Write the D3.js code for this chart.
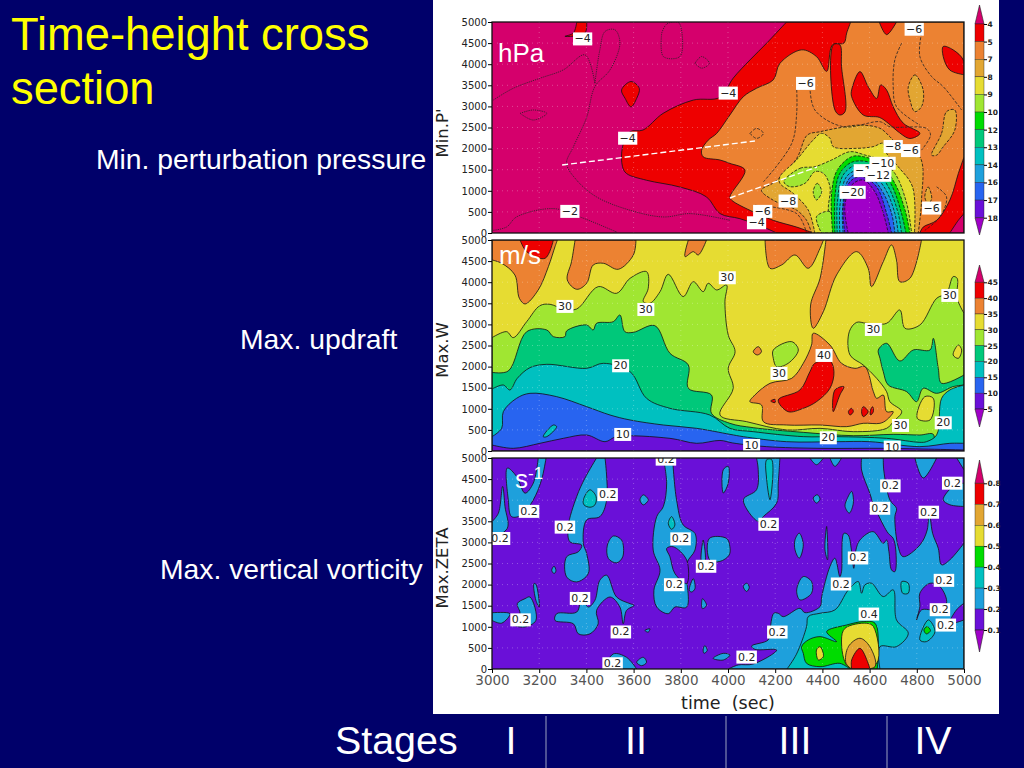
<!DOCTYPE html>
<html><head><meta charset="utf-8">
<script src="https://cdn.jsdelivr.net/npm/d3@7"></script>
<style>html,body{margin:0;padding:0;background:#00006a;overflow:hidden}svg{display:block}
text{font-family:"Liberation Sans",Arial,sans-serif}
.ax text{font-family:"DejaVu Sans",sans-serif;fill:#222}
</style></head><body><svg id="c" width="1024" height="768"></svg>
<script>
// ---------- tick labels ----------
const timeTicks=[3000,3200,3400,3600,3800,4000,4200,4400,4600,4800,5000];
const heightTicks=[0,500,1000,1500,2000,2500,3000,3500,4000,4500,5000];
const pressureKey=["4","5","7","8","9","10","12","13","14","16","17","18"];
const updraftKey=["45","40","35","30","25","20","15","10","5"];
const vorticityKey=["0.8","0.7","0.6","0.5","0.4","0.3","0.2","0.1"];
// ---------- Min.P' contours, [time s, height m] ----------
const pRedMain=[[3553,1570],[3553,2040],[3585,2400],[3640,2440],[3725,2835],[3853,3150],[3966,3215],[4022,3670],[4093,4100],[4164,4500],[4248,5000],[5000,5000],[5000,0],[4206,0],[4150,140],[4050,340],[3966,460],[3909,855],[3796,1090],[3655,1250],[3570,1410]];
const pRedTopLeft=[[3359,5000],[3401,5000],[3394,4740],[3309,4660],[3345,4740]];
const pRedMid=[[3549,3390],[3589,3590],[3624,3430],[3613,3190],[3589,2990],[3564,3190]];
const pOrange=[[3888,1960],[3916,2200],[3952,2360],[4008,2796],[4065,3230],[4121,3430],[4192,3630],[4220,4020],[4312,4340],[4375,4180],[4418,3830],[4443,4460],[4491,4500],[4503,4740],[4520,5000],[5000,5000],[5000,1800],[4976,1410],[4940,780],[4884,300],[4827,140],[4813,0],[4361,0],[4291,140],[4192,300],[4107,500],[4015,780],[4008,855],[4072,1490],[4008,1650],[3966,1730],[3895,1805]];
const pRedFinger=[[4446,4459],[4453,2915],[4474,2796],[4496,2875],[4481,3944],[4474,4459]];
const pRedCentre=[[4524,3390],[4559,3825],[4594,3470],[4630,3190],[4647,3510],[4672,3390],[4700,2990],[4743,2600],[4813,2360],[4771,2240],[4721,2400],[4679,2600],[4641,2740],[4573,2796],[4524,3230]];
const pRedTop=[[4641,5000],[4672,4700],[4714,5000]];
const pRedRight=[[4912,4420],[4954,4340],[4997,4100],[5000,3750],[4940,3860],[4912,4180]];
const pCrimsonCorner=[[4940,0],[4976,301],[5000,459],[5000,0]];
const pGold=[[4142,1014],[4199,1212],[4291,1766],[4336,2320],[4390,2400],[4460,2480],[4559,2558],[4644,2480],[4686,2281],[4714,2123],[4813,1806],[4820,776],[4806,0],[4354,0],[4333,301],[4291,539],[4192,776]];
const pGoldRightA=[[4764,3469],[4792,3746],[4827,3390],[4820,2994],[4792,2875],[4771,3152]];
const pGoldRightB=[[4863,1845],[4905,2360],[4926,2875],[4961,2915],[4961,2439],[4912,2043],[4884,1845]];
const pGoldSpot=[[4834,855],[4848,1093],[4863,815],[4848,697]];
const pYellow=[[4220,1335],[4290,1730],[4361,2204],[4396,2362],[4432,2244],[4446,2046],[4545,2006],[4615,2046],[4658,2125],[4672,1888],[4721,1572],[4782,1093],[4790,0],[4368,0],[4340,545],[4276,940],[4220,1180]];
const pLime=[[4237,1216],[4305,1533],[4368,1572],[4439,1730],[4517,1927],[4580,1848],[4644,1730],[4707,1414],[4757,703],[4778,0],[4432,0],[4425,585],[4432,1098],[4404,1414],[4368,1453],[4326,1177],[4262,1098]];
const pLimeSpot=[[4361,980],[4378,1177],[4397,980],[4375,782]];
const pLimeLow=[[4375,387],[4432,505],[4446,0],[4396,0]];
const pGreen=[[4443,0],[4439,940],[4463,1493],[4524,1809],[4573,1809],[4644,1651],[4707,1177],[4750,545],[4771,0]];
const pEmerald=[[4453,0],[4453,861],[4474,1414],[4531,1690],[4629,1612],[4693,1138],[4735,466],[4754,0]];
const pTeal=[[4463,0],[4463,703],[4488,1375],[4545,1612],[4622,1493],[4679,1098],[4721,466],[4735,0]];
const pSky=[[4474,0],[4474,624],[4502,1335],[4552,1493],[4608,1414],[4665,1058],[4707,466],[4721,0]];
const pBlue=[[4488,0],[4485,545],[4509,1256],[4552,1414],[4601,1335],[4651,1019],[4693,466],[4707,0]];
const pViolet=[[4495,0],[4488,585],[4517,1217],[4566,1335],[4629,1098],[4672,466],[4693,0]];
const pPurple=[[4509,0],[4495,624],[4524,1137],[4573,1256],[4622,979],[4658,466],[4679,0]];
const pLineA=[[3006,3152],[3090,3429],[3203,3667],[3302,3865],[3394,4221],[3436,3548]];
const pLineB=[[3436,3548],[3457,4340],[3479,4776],[3521,4815],[3542,4499],[3500,3865],[3436,3470],[3401,2740],[3345,2043],[3316,1647],[3359,1251],[3443,855],[3585,539],[3726,380],[3839,459],[4008,301]];
const pLineC=[[3006,63],[3062,143],[3104,380],[3260,578],[3373,380],[3528,24]];
const pLoopA=[[3119,2835],[3175,2915],[3232,2835],[3175,2677],[3119,2835]];
const pLoopB=[[3719,4736],[3740,4950],[3789,4990],[3803,4815],[3796,4182],[3726,4182],[3719,4736]];
const pLoopC=[[3860,4023],[3888,4182],[3921,4023],[3888,3905],[3860,4023]];
const pDashA=[[4150,1212],[4270,2123],[4291,2835],[4291,3429]];
const pDashB=[[4347,3469],[4368,2915],[4488,2519],[4644,2637],[4686,2519],[4841,2479],[4858,2320],[4820,1964]];
const pDashC=[[4820,4736],[4813,4182],[4863,3706],[4912,3469],[4990,2915]];
const pDashD=[[4736,4499],[4707,4103],[4700,3469],[4714,2994],[4813,2558]];
const pDashE=[[4114,657],[4291,459],[4333,0]];
const pDashF=[[4884,1093],[4926,855],[4898,380],[4834,63]];
const pDashG=[[4093,2360],[4121,2479],[4150,2360],[4121,2241],[4093,2360]];
const pDashTrackA=[[3297,1611],[4114,2180]];
const pDashTrackB=[[4008,830],[4377,1564]];
const pLabels=[["−4",3384,4610],["−4",3575,2257],["−2",3330,523],["−4",4001,3326],["−6",4329,3556],["−6",4789,4840],["−8",4700,2060],["−6",4774,1964],["−1",4573,1489],["−10",4655,1663],["−12",4637,1378],["−20",4528,974],["−8",4255,768],["−6",4147,523],["−4",4121,253],["−6",4863,602]];
// ---------- Max.W contours ----------
const wLime=[[3000,2686],[3062,2828],[3090,2686],[3147,3065],[3203,3444],[3246,3476],[3302,3365],[3359,3365],[3450,3895],[3528,3737],[3585,4092],[3655,4250],[3662,3855],[3641,3539],[3669,3500],[3712,3776],[3747,4187],[3810,3658],[3853,4013],[3895,3776],[3916,3974],[3952,3816],[3994,3934],[3987,3539],[4001,2749],[4030,2354],[4001,1959],[4022,1485],[3966,853],[4079,695],[4248,498],[4390,537],[4531,458],[4672,537],[4700,695],[4736,932],[4686,1169],[4672,1406],[4630,1722],[4573,2038],[4517,2275],[4514,2828],[4545,3049],[4587,3026],[4672,3026],[4728,3342],[4750,2907],[4813,2986],[4884,3618],[4926,3737],[4954,4132],[4971,4092],[4971,3618],[5000,3263],[5000,0],[3000,0]];
const wYellowA=[[4802,774],[4834,1288],[4870,1248],[4856,735]];
const wYellowB=[[4954,2275],[4976,2512],[4990,2394],[4976,2196]];
const wLimePatch=[[4192,2394],[4270,2591],[4298,2394],[4255,2078],[4206,1999],[4192,2196]];
const wEmerald=[[3000,1864],[3069,1896],[3147,2828],[3232,2868],[3260,2710],[3309,2710],[3316,2844],[3401,2986],[3429,2868],[3443,3026],[3514,3065],[3542,3223],[3563,2828],[3599,2812],[3690,2970],[3754,2315],[3832,2038],[3832,1485],[3930,1327],[3930,893],[4008,656],[4107,553],[4319,442],[4531,363],[4700,395],[4813,379],[4870,395],[4870,0],[3000,0]];
const wEmeraldRight=[[4637,2394],[4672,2552],[4728,2133],[4785,2394],[4856,2394],[4870,2670],[4891,1959],[4905,1604],[5000,1801],[5000,1564],[4954,1525],[4884,1367],[4827,1485],[4799,1169],[4757,1406],[4679,1564],[4658,1880],[4644,2196]];
const wTeal=[[3000,1469],[3048,1564],[3076,1446],[3107,1722],[3161,1975],[3232,2054],[3401,1959],[3472,2078],[3585,1880],[3655,1248],[3754,1011],[3923,853],[4008,537],[4107,458],[4319,340],[4460,340],[4672,300],[4813,205],[4841,221],[4884,379],[4905,1248],[4940,1446],[5000,1564],[5000,0],[3000,0]];
const wBlue=[[3000,340],[3041,537],[3048,932],[3104,1248],[3161,1367],[3274,1288],[3401,1051],[3500,853],[3585,735],[3726,616],[3867,537],[4008,395],[4065,340],[4248,221],[4460,221],[4601,221],[4813,103],[4940,182],[5000,182],[5000,0],[3000,0]];
const wTealStreak=[[3217,340],[3260,616],[3274,577],[3232,340]];
const wViolet=[[3000,142],[3090,63],[3203,182],[3302,300],[3401,379],[3479,221],[3528,340],[3754,300],[3867,182],[3966,250],[4020,190],[4164,103],[4390,63],[4672,63],[5000,24],[5000,0],[3000,0]];
const wOrangeA=[[3000,5000],[3000,4527],[3041,4448],[3097,4171],[3116,3618],[3140,3484],[3196,3816],[3239,4369],[3267,4843],[3277,5000]];
const wRedTop=[[3119,5000],[3147,4724],[3225,4566],[3260,5000]];
const wOrangeB=[[3352,5000],[3337,4487],[3319,4053],[3359,3832],[3401,3974],[3429,4408],[3472,4448],[3535,4306],[3599,4645],[3610,5000]];
const wOrangeC=[[3832,5000],[3818,4606],[3853,4724],[3874,4645],[3909,5000]];
const wOrangeD=[[4157,5000],[4178,4329],[4227,4408],[4284,4645],[4340,4329],[4390,4803],[4404,5000]];
const wOrangeE=[[4415,5000],[4390,4092],[4350,3460],[4361,2907],[4404,3302],[4460,4171],[4545,4724],[4594,4329],[4608,3895],[4658,4487],[4693,4882],[4714,4527],[4728,4013],[4771,4092],[4820,5000]];
const wOrangeCore=[[4361,2789],[4432,2512],[4481,2078],[4538,1959],[4580,1999],[4616,1406],[4630,1248],[4658,1327],[4672,932],[4700,932],[4672,735],[4644,656],[4573,656],[4503,577],[4390,616],[4248,616],[4150,695],[4142,1090],[4093,1169],[4114,1327],[4178,1604],[4270,1722],[4319,2078],[4354,2512]];
const wOrangeSpot=[[4107,2354],[4128,2473],[4142,2354],[4124,2275]];
const wRedCore=[[4213,1209],[4305,1446],[4347,1880],[4368,2078],[4432,2133],[4449,1880],[4432,1485],[4375,1169],[4319,1011],[4255,932]];
const wRedB=[[4446,932],[4453,1446],[4491,1525],[4474,1327]];
const wRedC=[[4566,932],[4573,1051],[4594,932],[4573,814]];
const wRedD=[[4510,932],[4524,1011],[4531,932],[4517,853]];
const wRedE=[[4604,972],[4613,1051],[4616,932],[4604,853]];
const wRedF=[[4181,1185],[4199,1224],[4199,1146]];
const wLabels=[["30",3309,3437],["20",3545,2030],["10",3554,403],["30",3652,3365],["30",3997,4116],["30",4940,3697],["30",4616,2891],["40",4407,2275],["30",4216,1849],["30",4731,616],["20",4912,679],["20",4425,324],["10",4100,142],["10",4696,103]];
// ---------- Max.ZETA contours ----------
const zSkyShapes=[
[[3065,4762],[3104,4564],[3140,4167],[3175,4405],[3196,5000],[3229,5000],[3210,4484],[3175,4008],[3126,3651],[3083,3611],[3069,4008]],
[[3000,3492],[3027,3691],[3045,4326],[3055,3849],[3065,3334],[3000,3095]],
[[3443,5000],[3479,5000],[3486,4008],[3457,3611],[3401,3532],[3387,2976],[3401,2738],[3408,2262],[3359,2064],[3316,2183],[3316,2659],[3366,2778],[3380,2937],[3330,3016],[3323,3373],[3359,4088],[3394,4524]],
[[3627,4008],[3641,4127],[3662,4008],[3641,3889]],
[[3726,5000],[3765,5000],[3782,4008],[3810,3413],[3860,3214],[3860,2818],[3825,2500],[3825,1468],[3775,1468],[3747,1310],[3698,1468],[3686,1865],[3712,2341],[3683,2818],[3698,3611],[3726,3849],[3740,4405]],
[[3921,3095],[3994,3095],[4008,2897],[4005,2700],[3966,2550],[3923,2580]],
[[3888,2540],[3895,3056],[3902,2540]],
[[3489,2937],[3514,3151],[3549,3056],[3554,2659],[3528,2516],[3493,2619]],
[[3457,2103],[3486,2222],[3528,1706],[3585,1548],[3602,1508],[3570,1389],[3556,1071],[3542,1468],[3500,1706],[3443,1389],[3450,1071],[3415,833],[3366,833],[3345,1071],[3267,1151],[3274,1310],[3359,1349],[3380,1667],[3408,1468],[3436,1627]],
[[3000,1333],[3076,1310],[3041,1087],[3000,1151]],
[[3107,1548],[3140,1667],[3161,1706],[3186,1151],[3133,992],[3090,1071],[3119,1310]],
[[3178,2024],[3186,2008],[3200,1468],[3186,1627]],
[[3888,1508],[3892,1667],[3909,1508],[3892,1429]],
[[3895,476],[3902,556],[3912,437],[3898,373]],
[[3253,2341],[3263,2437],[3271,2326],[3263,2262]],
[[3472,0],[3514,357],[3570,278],[3613,0]],
[[3613,159],[3641,278],[3655,159],[3634,79]],
[[3937,252],[3980,371],[4008,332],[3980,213]],
[[3648,913],[3669,952],[3662,873]],
[[3836,1865],[3853,2143],[3860,1905],[3846,1825]],
[[4121,5000],[4220,5000],[4213,4406],[4206,3931],[4150,3615],[4128,3496],[4065,4010],[4121,4248],[4128,4722]],
[[3980,4722],[4001,4801],[4001,4406],[3980,4169]],
[[4284,3061],[4302,3219],[4319,2943],[4302,2626],[4284,2824]],
[[4503,4010],[4524,4208],[4531,3931],[4514,3694],[4496,3852]],
[[4361,4050],[4378,4129],[4390,4026],[4375,3931]],
[[4065,1954],[4079,2033],[4090,1938],[4079,1835]],
[[4291,1875],[4319,2191],[4354,2072],[4354,1796],[4305,1637]],
[[4347,5000],[4404,5000],[4375,4841]],
[[4432,5000],[4481,5000],[4453,4801]],
[[4792,5000],[4884,5000],[4827,4525]],
[[4912,4010],[4954,4327],[5000,4406],[5000,3852],[4940,3892]],
[[4969,5000],[5000,5000],[5000,4722]],
[[4411,2824],[4418,3378],[4422,2586]],
[[4001,0],[4043,95],[4107,118],[4206,450],[4114,466],[4100,545],[4170,687],[4177,885],[4194,1319],[4213,1319],[4234,1240],[4305,1438],[4326,1335],[4390,1479],[4397,1716],[4432,2428],[4453,2626],[4474,2188],[4481,2306],[4491,3215],[4509,3176],[4523,2820],[4533,2385],[4542,2820],[4559,3057],[4615,3255],[4658,2978],[4672,3057],[4682,2780],[4693,2346],[4707,2306],[4711,2820],[4700,3096],[4679,3215],[4658,3412],[4615,3926],[4601,4163],[4566,4716],[4566,5000],[4658,5000],[4660,4716],[4686,4005],[4714,3807],[4707,3610],[4721,2899],[4742,2662],[4813,2938],[4844,3294],[4852,3768],[4867,3215],[4891,2860],[4905,2468],[4940,2587],[5000,2982],[5000,0]]
];
const zVioletShapes=[
[[3740,2857],[3768,2897],[3825,2580],[3825,2024],[3775,2262],[3754,2659]],
[[4813,1796],[4856,2033],[4898,1954],[4926,1558],[4884,1400],[4820,1400],[4799,1163],[4813,1479]],
[[4940,1084],[4968,1400],[5000,1558],[5000,1163]]
];
const zTealShapes=[
[[3387,4008],[3415,4246],[3441,4088],[3436,3889],[3415,3834],[3390,3889]],
[[3747,3453],[3761,3611],[3775,3413],[3761,3310]],
[[4164,4960],[4185,4960],[4178,4010],[4164,4485]],
[[4250,0],[4290,350],[4333,1005],[4340,1242],[4390,1321],[4453,1400],[4510,1875],[4552,2072],[4566,1796],[4580,1993],[4608,2033],[4658,1716],[4700,1875],[4714,1163],[4764,846],[4714,530],[4644,530],[4644,0]],
[[4736,2072],[4764,2033],[4764,1796],[4740,1796]],
[[4813,688],[4849,1163],[4877,886],[4841,649]]
];
const zGreenShapes=[
[[4312,530],[4340,688],[4390,767],[4460,649],[4418,886],[4503,1044],[4573,1123],[4623,1084],[4637,451],[4632,0],[4517,0],[4474,134],[4390,55],[4333,134],[4319,372]],
[[4830,925],[4844,1005],[4858,910],[4841,831]]
];
const zYellowShapes=[
[[4481,688],[4496,965],[4587,1084],[4616,1005],[4630,134],[4510,55]],
[[4375,451],[4390,530],[4404,293],[4383,214]]
];
const zGold=[[4500,134],[4510,530],[4559,728],[4601,530],[4623,55],[4524,0]];
const zRed=[[4524,0],[4524,214],[4559,490],[4594,134],[4601,0]];
const zLabels=[["0.2",3157,3746],["0.2",3034,3103],["0.2",3309,3373],["0.2",3490,4143],["0.2",3799,3095],["0.2",3907,2445],["0.2",3772,2008],["0.2",3373,1683],["0.2",3121,1175],["0.2",3546,889],["0.2",3511,135],["0.2",3737,4984],["0.2",4172,3441],["0.2",4209,886],["0.2",4079,293],["0.2",4551,2642],["0.2",4479,2025],["0.4",4597,1313],["0.2",4644,3820],["0.2",4688,4350],["0.2",4851,3726],["0.2",4950,4414],["0.2",4915,2112],["0.2",4898,1416],["0.2",4923,1052]];

// ---------- styles and layout ----------
const C={crimson:"#d5006c",red:"#ee0000",orange:"#ec8232",gold:"#e2a632",yellow:"#e6dc32",lime:"#a0e632",green:"#00dc00",emerald:"#00c87a",teal:"#00c0c0",sky:"#1ea0dc",blue:"#2864f0",violet:"#6a10d8",purple:"#a000c8"};
const svg=d3.select("#c");
svg.append("rect").attr("x",433).attr("y",0).attr("width",566).attr("height",714).attr("fill","#fff");
const x=d3.scaleLinear().domain([3000,5000]).range([492,964]);
const defs=svg.append("defs");
const onEdge=p=>p[0]===3000||p[0]===5000||p[1]===0||p[1]===5000;

function panel(id,top,bottom,base,shapes,lines,labels,yTitle,titleY,showX){
  const y=d3.scaleLinear().domain([0,5000]).range([bottom,top]);
  defs.append("clipPath").attr("id",id).append("rect").attr("x",492).attr("y",top).attr("width",472).attr("height",bottom-top);
  const g=svg.append("g").attr("clip-path",`url(#${id})`);
  g.append("rect").attr("x",492).attr("y",top).attr("width",472).attr("height",bottom-top).attr("fill",C[base]);
  const area=d3.line().x(d=>x(d[0])).y(d=>y(d[1])).curve(d3.curveCatmullRomClosed.alpha(0.5));
  const open=d3.line().x(d=>x(d[0])).y(d=>y(d[1])).curve(d3.curveCatmullRom.alpha(0.5));
  g.selectAll(null).data(shapes).join("path")
    .attr("d",s=>area(s[0].flatMap(p=>onEdge(p)?[p,p]:[p])))
    .attr("fill",s=>C[s[1]]).attr("stroke","#111").attr("stroke-width",.8)
    .attr("stroke-dasharray",s=>s[2]?"3,1.5":null);
  const grid=g.append("g").attr("stroke","#fff").attr("stroke-opacity",.4).attr("stroke-width",.7).attr("stroke-dasharray","1,4");
  grid.selectAll(null).data(timeTicks.slice(1,-1)).join("line").attr("x1",d=>x(d)).attr("x2",d=>x(d)).attr("y1",top).attr("y2",bottom);
  grid.selectAll(null).data(heightTicks.slice(1,-1)).join("line").attr("y1",d=>y(d)).attr("y2",d=>y(d)).attr("x1",492).attr("x2",964);
  g.selectAll(null).data(lines).join("path").attr("d",l=>open(l[0])).attr("fill","none")
    .attr("stroke",l=>l[1]==="track"?"#fff":"#222").attr("stroke-width",l=>l[1]==="track"?1.4:.8)
    .attr("stroke-dasharray",l=>l[1]==="track"?"6,3":l[1]==="dash"?"3,1.5":"1.2,1");
  const lab=g.selectAll(null).data(labels).join("g").attr("transform",d=>`translate(${x(d[1])},${y(d[2])})`);
  lab.append("text").text(d=>d[0]).attr("text-anchor","middle").attr("dy","0.36em")
    .style("font-family","'DejaVu Sans',sans-serif").style("font-size","11px").attr("fill","#222");
  lab.insert("rect","text").each(function(){const b=this.nextSibling.getBBox();
    d3.select(this).attr("x",b.x-1.5).attr("y",b.y).attr("width",b.width+3).attr("height",b.height).attr("fill","#fff");});
  svg.append("rect").attr("x",492).attr("y",top).attr("width",472).attr("height",bottom-top).attr("fill","none").attr("stroke","#111").attr("stroke-width",1.3);
  const ya=svg.append("g").attr("class","ax").attr("transform","translate(492,0)")
    .call(d3.axisLeft(y).tickValues(heightTicks).tickFormat(d3.format("d")).tickSize(4).tickPadding(1));
  ya.select(".domain").remove();
  ya.selectAll("text").style("font-size","10px").style("font-family","'DejaVu Sans',sans-serif").attr("font-weight",500);
  svg.append("text").attr("transform",`translate(448,${titleY}) rotate(-90)`).attr("text-anchor","middle")
    .style("font-family","'DejaVu Sans',sans-serif").style("font-size","16.5px").attr("fill","#222").text(yTitle);
  if(showX){
    const xa=svg.append("g").attr("class","ax").attr("transform",`translate(0,${bottom})`)
      .call(d3.axisBottom(x).tickValues(timeTicks).tickFormat(d3.format("d")).tickSize(4).tickPadding(2));
    xa.select(".domain").remove();
    xa.selectAll("text").style("font-size","13.5px").style("fill","#555").style("font-family","'DejaVu Sans',sans-serif");
  }
}

function colourbar(colours,labels,first,last,tipTop,tipBottom){
  const idx=d3.scaleLinear().domain([0,labels.length-1]).range([first,last]);
  const step=(last-first)/(labels.length-1);
  const bar=svg.append("g");
  colours.forEach((c,i)=>{
    if(i===0) bar.append("path").attr("d",`M975 ${first}L979.5 ${tipTop}L984 ${first}Z`).attr("fill",C[c]).attr("stroke","#222").attr("stroke-width",.6);
    else if(i===colours.length-1) bar.append("path").attr("d",`M975 ${last}L979.5 ${tipBottom}L984 ${last}Z`).attr("fill",C[c]).attr("stroke","#222").attr("stroke-width",.6);
    else bar.append("rect").attr("x",975).attr("width",9).attr("y",idx(i-1)).attr("height",step).attr("fill",C[c]).attr("stroke","#222").attr("stroke-width",.4);
  });
  const a=svg.append("g").attr("class","ax").attr("transform","translate(984,0)")
    .call(d3.axisRight(idx).tickValues(d3.range(labels.length)).tickFormat(i=>labels[i]).tickSize(3).tickPadding(0.5));
  a.select(".domain").remove();
  a.selectAll("text").style("font-size","7.5px").attr("font-weight",700).style("font-family","'DejaVu Sans',sans-serif");
}

panel("p1",22,233,"crimson",[
 [pRedMain,"red"],[pRedTopLeft,"red"],[pRedMid,"red"],[pCrimsonCorner,"crimson"],[pOrange,"orange"],[pRedFinger,"red"],[pRedCentre,"red"],[pRedTop,"red"],[pRedRight,"red"],
 [pGoldRightA,"gold",1],[pGoldRightB,"gold",1],[pGoldSpot,"gold",1],[pGold,"gold",1],[pYellow,"yellow",1],[pLime,"lime",1],[pLimeSpot,"lime",1],[pLimeLow,"lime",1],
 [pGreen,"green",1],[pEmerald,"emerald",1],[pTeal,"teal",1],[pSky,"sky",1],[pBlue,"blue",1],[pViolet,"violet",1],[pPurple,"purple",1]
],[[pLineA,"dot"],[pLineB,"dot"],[pLineC,"dot"],[pLoopA,"dot"],[pLoopB,"dot"],[pLoopC,"dot"],
  [pDashA,"dash"],[pDashB,"dash"],[pDashC,"dash"],[pDashD,"dash"],[pDashE,"dash"],[pDashF,"dash"],[pDashG,"dash"],
  [pDashTrackA,"track"],[pDashTrackB,"track"]],pLabels,"Min.P'",133,false);

panel("p2",240,451,"yellow",[
 [wOrangeA,"orange"],[wRedTop,"red"],[wOrangeB,"orange"],[wOrangeC,"orange"],[wOrangeD,"orange"],[wOrangeE,"orange"],
 [wLime,"lime"],[wYellowA,"yellow"],[wYellowB,"yellow"],[wLimePatch,"lime"],[wEmerald,"emerald"],[wEmeraldRight,"emerald"],[wTeal,"teal"],[wBlue,"blue"],[wTealStreak,"teal"],[wViolet,"violet"],
 [wOrangeCore,"orange"],[wOrangeSpot,"orange"],[wRedCore,"red"],[wRedB,"red"],[wRedC,"red"],[wRedD,"red"],[wRedE,"red"],[wRedF,"red"]
],[],wLabels,"Max.W",350,false);

panel("p3",458,669,"violet",[
 ...zSkyShapes.map(s=>[s,"sky"]),...zVioletShapes.map(s=>[s,"violet"]),...zTealShapes.map(s=>[s,"teal"]),
 ...zGreenShapes.map(s=>[s,"green"]),...zYellowShapes.map(s=>[s,"yellow"]),[zGold,"gold"],[zRed,"red"]
],[],zLabels,"Max.ZETA",568,true);

colourbar(["crimson","red","orange","gold","yellow","lime","green","emerald","teal","sky","blue","violet","purple"],pressureKey,24,217.7,5,235);
colourbar(["crimson","red","orange","yellow","lime","emerald","teal","blue","violet","purple"],updraftKey,282.3,409,265,427);
colourbar(["crimson","red","gold","yellow","green","teal","sky","violet","purple"],vorticityKey,483.3,630,460,652);

svg.append("text").attr("x",728).attr("y",709).attr("text-anchor","middle").style("font-family","'DejaVu Sans',sans-serif").style("font-size","17.5px").attr("fill","#222").text("time\u00a0\u00a0(sec)");

// ---------- slide text ----------
function label(t,xp,yp,size,fill,anchor){return svg.append("text").attr("x",xp).attr("y",yp).attr("font-size",size).attr("fill",fill).attr("text-anchor",anchor||"start").text(t);}
label("Time-height cross",11,50,45.3,"#ffff00");
label("section",11,104,45.3,"#ffff00");
label("Min. perturbation pressure",96,169,28.3,"#fff");
label("Max. updraft",240,349,28.3,"#fff");
label("Max. vertical vorticity",160,579,28.3,"#fff");
label("hPa",498,62,26,"#fff");
label("m/s",499,264,26,"#fff");
const s1=label("s",515,488,26,"#fff");
s1.append("tspan").attr("font-size",17).attr("dy",-9).text("-1");
label("Stages",335,754,39.4,"#fff");
[["I",511],["II",636],["III",795],["IV",933]].forEach(d=>label(d[0],d[1],754,39.4,"#fff","middle"));
svg.selectAll(null).data([546,726,887]).join("line").attr("x1",d=>d).attr("x2",d=>d).attr("y1",716).attr("y2",768).attr("stroke","#9aa0c0").attr("stroke-width",1);
</script></body></html>
